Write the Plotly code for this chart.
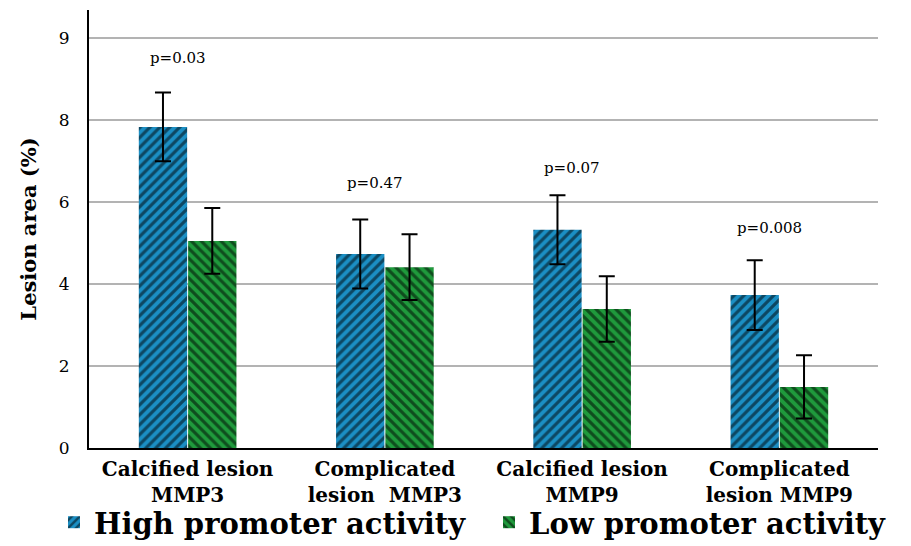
import plotly.graph_objects as go

categories = ["Calcified lesion<br>MMP3", "Complicated<br>lesion  MMP3",
              "Calcified lesion<br>MMP9", "Complicated<br>lesion MMP9"]
high_vals = [7.83, 4.73, 5.32, 3.73]
high_err = [0.84, 0.84, 0.84, 0.85]
low_vals = [5.05, 4.41, 3.39, 1.49]
low_err = [0.8, 0.8, 0.8, 0.77]
p_labels = ["p=0.03", "p=0.47", "p=0.07", "p=0.008"]
p_y = [9.51, 6.46, 6.83, 5.37]
tick_vals = [0, 2, 4, 6, 8, 10]
tick_text = ["0", "2", "4", "6", "8", "9"]

serif = "DejaVu Serif"

fig = go.Figure()
fig.add_trace(go.Bar(
    x=categories, y=high_vals, name="High promoter activity", legend="legend",
    marker=dict(color="#1b8fc4", line=dict(color="#1b8fc4", width=0),
                pattern=dict(shape="/", fgcolor="black", bgcolor="#1b8fc4",
                             size=7, solidity=0.45)),
    error_y=dict(type="data", array=high_err, color="black", thickness=2, width=8),
))
fig.add_trace(go.Bar(
    x=categories, y=low_vals, name="Low promoter activity", legend="legend2",
    marker=dict(color="#1f9a3c", line=dict(color="#1f9a3c", width=0),
                pattern=dict(shape="\\", fgcolor="black", bgcolor="#1f9a3c",
                             size=7, solidity=0.45)),
    error_y=dict(type="data", array=low_err, color="black", thickness=2, width=8),
))

for c, t, yv in zip(categories, p_labels, p_y):
    fig.add_annotation(x=c, y=yv, text=t, showarrow=False, xshift=-10,
                       font=dict(family=serif, size=15, color="black"))

legend_common = dict(orientation="h", xanchor="left",
                     xref="container", yref="container", y=0.09, yanchor="top",
                     font=dict(family=serif, size=29, color="black", weight="bold"),
                     itemwidth=30, bgcolor="rgba(0,0,0,0)")

fig.update_layout(
    width=911, height=546,
    margin=dict(l=89, r=33, t=10, b=98, autoexpand=False),
    paper_bgcolor="white", plot_bgcolor="white",
    barmode="group", bargap=0.5, bargroupgap=0.02,
    showlegend=True,
    legend=dict(x=54 / 911, **legend_common),
    legend2=dict(x=489 / 911, **legend_common),
    font=dict(family=serif, color="black"),
)
fig.update_xaxes(showline=True, linecolor="black", linewidth=2, automargin=False,
                 tickfont=dict(family=serif, size=20, color="black", weight="bold"),
                 ticks="", showgrid=False, ticklabelstandoff=2)
fig.update_yaxes(range=[0, 10.68], tickvals=tick_vals, ticktext=tick_text,
                 showline=True, linecolor="black", linewidth=2, automargin=False,
                 showgrid=True, gridcolor="#b3b3b3", gridwidth=2,
                 tickfont=dict(family=serif, size=17, color="black"),
                 ticks="", ticklabelstandoff=14, zeroline=False,
                 title=dict(text="<b>Lesion area (%)</b>",
                            font=dict(family=serif, size=21, color="black"),
                            standoff=16))

fig.write_html("out.html", config={"displayModeBar": False},
               post_script="document.body.style.margin='0px';")
